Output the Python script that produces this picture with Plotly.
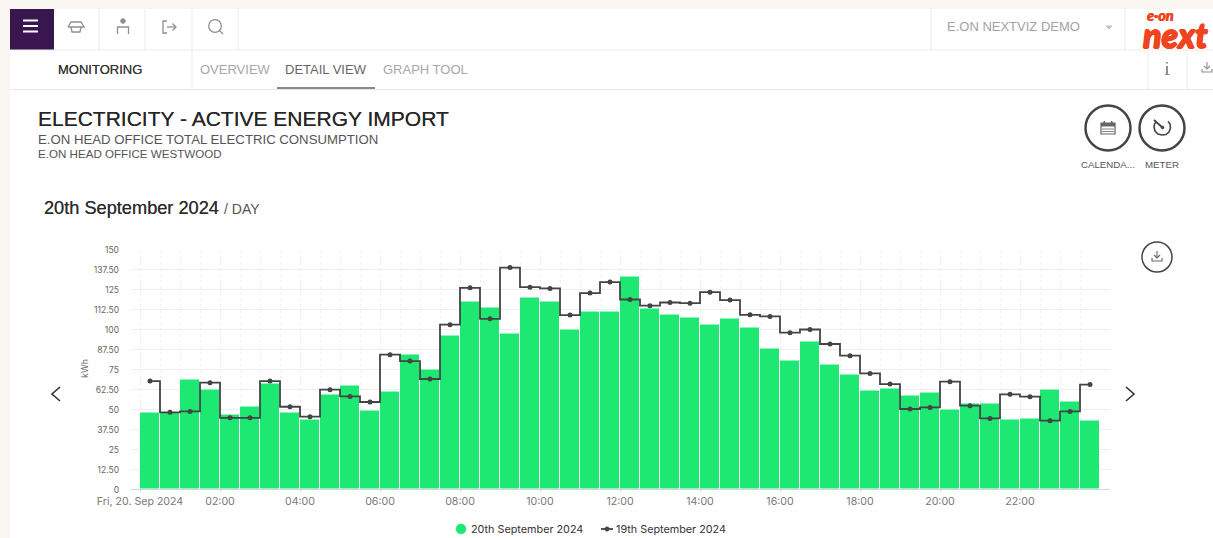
import plotly.graph_objects as go

W, H = 1213, 538

times = [f"2024-09-20 {h:02d}:{m:02d}" for h in range(24) for m in (15, 45)]

today_name = "20th September 2024"
yesterday_name = "19th September 2024"
today = [48.2, 47.8, 68.6, 62.2, 46.5, 51.7, 66.1, 48.2, 43.6, 59.5, 64.7, 49.2,
         61.1, 84.1, 74.9, 96.4, 117.3, 113.9, 97.4, 120.2, 117.3, 99.9, 111.4, 111.4,
         133.3, 113.1, 109.5, 107.2, 102.9, 106.6, 101.4, 88.3, 80.5, 92.6, 77.8, 71.8,
         61.5, 63.2, 58.8, 60.7, 49.7, 53.4, 53.4, 43.4, 44.2, 62.6, 54.5, 42.8]
yesterday = [67.6, 48.0, 48.6, 66.6, 44.6, 44.6, 67.6, 51.5, 45.3, 62.2, 58.0, 54.5,
             84.1, 80.1, 68.9, 102.9, 126.0, 106.6, 138.7, 126.4, 125.6, 108.9, 122.7, 129.6,
             118.7, 114.8, 116.8, 116.4, 123.3, 118.3, 109.1, 108.1, 97.9, 99.9, 90.8, 83.5,
             72.4, 65.7, 50.1, 51.1, 67.2, 52.2, 44.2, 59.3, 57.8, 42.8, 48.6, 65.4]

y_ticks = [0, 12.5, 25, 37.5, 50, 62.5, 75, 87.5, 100, 112.5, 125, 137.5, 150]
y_labels = ["0", "12.50", "25", "37.50", "50", "62.50", "75", "87.50", "100", "112.50", "125", "137.50", "150"]
x_ticks = [f"2024-09-20 {h:02d}:00" for h in range(0, 24, 2)]
x_labels = ["Fri, 20. Sep 2024", "02:00", "04:00", "06:00", "08:00", "10:00", "12:00",
            "14:00", "16:00", "18:00", "20:00", "22:00"]

GREEN = "#1ce872"
DARK = "#444444"
CREAM = "#f9f5f1"
PURPLE = "#39164d"
RULE = "#ececec"
ICON = "#8f8f8f"
LOGO = "#f0441e"
SANS = "Liberation Sans, Arial, sans-serif"
CHART = "Inter, sans-serif"


def px(x):
    return x / W


def py(y):
    return 1 - y / H


def rect(x0, y0, x1, y1, fill, layer="below"):
    return dict(type="rect", xref="paper", yref="paper", x0=px(x0), x1=px(x1), y0=py(y0), y1=py(y1),
                fillcolor=fill, line_width=0, layer=layer)


def line(x0, y0, x1, y1, color=RULE, width=1):
    return dict(type="line", xref="paper", yref="paper", x0=px(x0), x1=px(x1), y0=py(y0), y1=py(y1),
                line=dict(color=color, width=width), layer="below")


def circle(cx, cy, r, color=DARK, width=2.5, fill="rgba(0,0,0,0)"):
    return dict(type="circle", xref="paper", yref="paper", x0=px(cx - r), x1=px(cx + r), y0=py(cy - r), y1=py(cy + r),
                line=dict(color=color, width=width), fillcolor=fill, layer="above")


def path(points, color=ICON, width=1.3, close=False, fill="rgba(0,0,0,0)"):
    d = "M " + " L ".join(f"{px(x):.5f},{py(y):.5f}" for x, y in points) + (" Z" if close else "")
    return dict(type="path", xref="paper", yref="paper", path=d, line=dict(color=color, width=width),
                fillcolor=fill, layer="above")


def text(x, y, s, size, color, anchor="left", family=SANS, angle=0, **font_extra):
    return dict(xref="paper", yref="paper", x=px(x), y=py(y), text=s, showarrow=False, xanchor=anchor,
                yanchor="middle", textangle=angle, font=dict(size=size, color=color, family=family, **font_extra),
                borderpad=0, borderwidth=0)


def download(cx, cy, color=ICON):
    return [path([(cx, cy - 6), (cx, cy + 1)], color, 1.1),
            path([(cx - 3, cy - 2), (cx, cy + 1), (cx + 3, cy - 2)], color, 1.1),
            path([(cx - 5, cy + 1), (cx - 5, cy + 4), (cx + 5, cy + 4), (cx + 5, cy + 1)], color, 1.1)]


shapes = [
    rect(0, 0, W, 9, CREAM), rect(0, 0, 10, H, CREAM),
    rect(10, 9, 54, 50, PURPLE),
    line(10, 50, W, 50), line(10, 89.5, W, 89.5, "#e6e6e6"),
    line(99, 9, 99, 50), line(145, 9, 145, 50), line(192, 9, 192, 50), line(238, 9, 238, 50),
    line(931, 9, 931, 50), line(1125, 9, 1125, 50),
    line(192, 50, 192, 89), line(1148, 50, 1148, 89), line(1187, 50, 1187, 89),
    line(277, 88, 375, 88, "#8a8a8a", 2),
    # hamburger
    line(23, 20.5, 38, 20.5, "white", 2), line(23, 26, 38, 26, "white", 2), line(23, 31.5, 38, 31.5, "white", 2),
]
for s in shapes[-3:]:
    s["layer"] = "above"

shapes += [
    # tray icon
    path([(68, 27), (71, 22), (81, 22), (84, 27), (68, 27)]),
    path([(71, 27), (72, 32), (80, 32), (81, 27)]),
    # person icon
    circle(123, 21, 2.3, ICON, 1, ICON),
    path([(117.5, 34), (117.5, 27), (128.5, 27), (128.5, 34)]),
    # exit icon
    path([(167, 21), (163, 21), (163, 33), (167, 33)]),
    path([(167, 27), (176, 27)]), path([(172.5, 23.5), (176, 27), (172.5, 30.5)]),
    # search
    circle(215, 26, 6.3, ICON, 1.3),
    path([(219.5, 30.5), (223, 34)]),
    # dropdown caret
    path([(1106, 26), (1112, 26), (1109, 29)], "#c4c4c4", 1, True, "#c4c4c4"),
    # info
    path([(1167, 62), (1167, 63.5)], ICON, 2), path([(1167, 66), (1167, 74)], ICON, 2),
    path([(1165, 74.5), (1169.5, 74.5)], ICON, 1),
    # round buttons
    circle(1108, 128, 22.5), circle(1162, 128, 22.5),
    # calendar
    path([(1101, 123), (1115, 123), (1115, 134), (1101, 134)], "#666666", 1.2, True),
    rect(1101, 123, 1115, 126.5, "#666666", "above"),
    rect(1103.5, 121, 1105, 124, "#666666", "above"), rect(1111, 121, 1112.5, 124, "#666666", "above"),
    line(1102, 129, 1114, 129, "#888888", 1), line(1102, 131.5, 1114, 131.5, "#888888", 1),
    # meter
    path([(1156, 122), (1154.5, 124), (1154, 127), (1155, 131), (1158, 134), (1162, 135), (1166, 134.5),
          (1169, 132), (1170.5, 128), (1170, 124), (1168, 121.5)], DARK, 1.6),
    path([(1154, 120), (1163, 128)], DARK, 1.8),
    circle(1162.5, 127.5, 1.3, DARK, 1, DARK),
    circle(1157, 257, 15, DARK, 1.5),
    # chevrons
    path([(60, 387), (52, 394), (60, 401)], "#333333", 1.6),
    path([(1126, 387), (1134, 394), (1126, 401)], "#333333", 1.6),
    # legend keys
    circle(461, 529, 5, GREEN, 0.5, GREEN),
    path([(601, 529), (613, 529)], DARK, 1.8),
    circle(607, 529, 2.2, DARK, 0.5, DARK),
]
shapes += download(1157, 257, "#666666") + download(1207, 68)

THICK = "0 0 0.6px rgba(30,30,30,0.8)"
HEAVY = f"0.7px 0 0 {LOGO}, -0.7px 0 0 {LOGO}, 0 0.7px 0 {LOGO}, 0 -0.7px 0 {LOGO}"
LIGHT_HEAVY = f"0.3px 0 0 {LOGO}, -0.3px 0 0 {LOGO}"
annotations = [
    text(99.5, 69, "MONITORING", 13, "#333333", "center", shadow=THICK),
    text(200, 69, "OVERVIEW", 13, "#a8a8a8"),
    text(285, 69, "DETAIL VIEW", 13, "#666666"),
    text(383, 69, "GRAPH TOOL", 13, "#a8a8a8"),
    text(947, 26.5, "E.ON NEXTVIZ DEMO", 13, "#a3a3a3"),
    text(1160, 16, "e·on", 14.5, LOGO, "center", "Lato", weight=900, style="italic", shadow=LIGHT_HEAVY),
    text(1175, 34.5, "next", 34, LOGO, "center", "Lato", weight=900, style="italic", shadow=HEAVY),
    text(38, 118, "ELECTRICITY - ACTIVE ENERGY IMPORT", 21, "#262626", shadow=THICK),
    text(38, 140, "E.ON HEAD OFFICE TOTAL ELECTRIC CONSUMPTION", 13.2, "#555555"),
    text(38, 154, "E.ON HEAD OFFICE WESTWOOD", 11.6, "#555555"),
    text(44, 208, "20th September 2024", 18.2, "#2b2b2b", shadow=THICK),
    text(224, 209, "/ DAY", 14, "#555555"),
    text(1108, 164.5, "CALENDA...", 9.7, "#555555", "center"),
    text(1162, 164.5, "METER", 9.7, "#555555", "center"),
    text(471, 529, today_name, 10.8, "#333333", family=CHART),
    text(616, 529, yesterday_name, 10.8, "#333333", family=CHART),
    text(84, 369, "kWh", 9, "#666666", "center", family=CHART, angle=-90),
]

fig = go.Figure()
fig.add_bar(x=times, y=today, name=today_name, width=1800000, showlegend=False,
            marker=dict(color=GREEN, line=dict(color="white", width=1)))
fig.add_scatter(x=times, y=yesterday, name=yesterday_name, mode="lines+markers", showlegend=False,
                line=dict(color=DARK, width=1.8, shape="hvh"),
                marker=dict(color=DARK, size=5, symbol="circle"))

fig.update_layout(
    width=W, height=H, autosize=False,
    margin=dict(l=0, r=0, t=0, b=0, pad=0, autoexpand=False),
    paper_bgcolor="white", plot_bgcolor="rgba(0,0,0,0)",
    barmode="overlay", bargap=0, showlegend=False,
    font=dict(family=CHART, color="#666666"),
    shapes=shapes, annotations=annotations,
    xaxis=dict(domain=[px(131), px(1110)], type="date", automargin=False,
               range=["2024-09-19 23:46:30", "2024-09-21 00:15:00"],
               tickmode="array", tickvals=x_ticks, ticktext=x_labels,
               tickfont=dict(size=10.6, color="#777777", family=CHART),
               ticks="outside", ticklen=2, tickcolor="#ccd6eb", tickwidth=1,
               showline=True, linecolor="#ccd6eb", linewidth=1,
               showgrid=True, gridcolor="#ececec", griddash="dot", gridwidth=1,
               minor=dict(tickmode="array", tickvals=[t.replace(":15", ":00").replace(":45", ":30") for t in times],
                          showgrid=True, gridcolor="#f1f1f1", gridwidth=1),
               zeroline=False, layer="below traces"),
    yaxis=dict(domain=[py(489), py(249.5)], range=[0, 150], tickmode="array", tickvals=y_ticks, ticktext=y_labels,
               tickfont=dict(size=8.5, color="#666666", family=CHART), automargin=False,
               showgrid=True, gridcolor="#eeeeee", gridwidth=1, zeroline=False, showline=False,
               ticks="", ticklabelstandoff=11, ticklabelshift=1),
)

fig.write_html("out.html", config=dict(displayModeBar=False),
               post_script="document.body.style.margin='0';document.body.style.background='white';")
